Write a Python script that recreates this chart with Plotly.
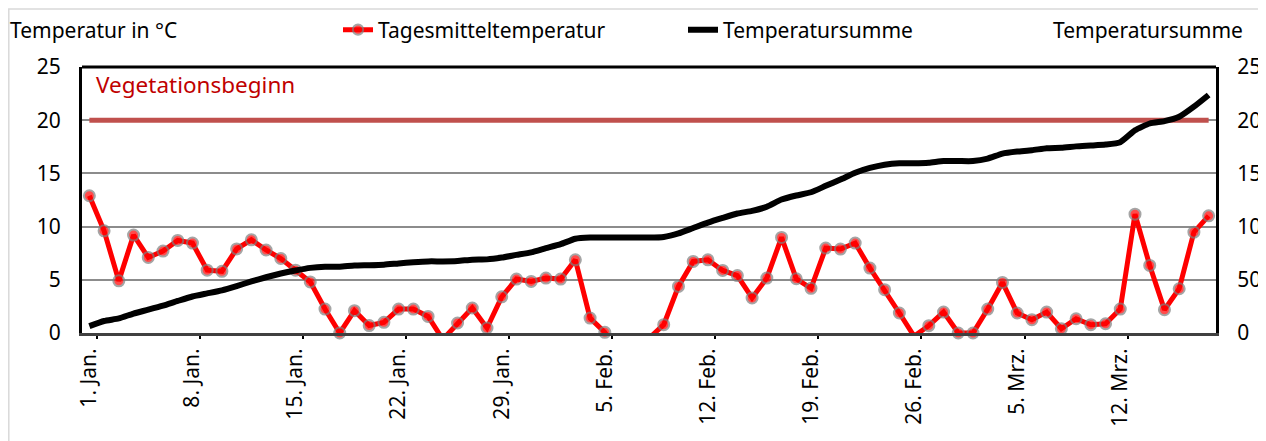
import pandas as pd
import plotly.graph_objects as go

# ---- data ----
start_date = "2021-01-01"
daily_mean = [12.9, 9.6, 4.9, 9.2, 7.1, 7.7, 8.7, 8.45, 5.9, 5.8,
              7.9, 8.76, 7.8, 7.0, 5.9, 4.8, 2.25, 0.0, 2.1, 0.7,
              1.0, 2.25, 2.25, 1.56, -0.6, 0.94, 2.35, 0.47, 3.4, 5.07,
              4.85, 5.16, 5.07, 6.88, 1.4, 0.06, -2.0, -3.0, -0.5, 0.78,
              4.38, 6.73, 6.88, 5.88, 5.4, 3.29, 5.16, 8.98, 5.1, 4.2,
              7.98, 7.89, 8.45, 6.1, 4.07, 1.88, -0.3, 0.69, 1.97, 0.0,
              0.0, 2.25, 4.75, 1.88, 1.25, 1.97, 0.4, 1.34, 0.78, 0.87,
              2.25, 11.17, 6.35, 2.19, 4.16, 9.48, 11.01]
temp_sum = [6.5, 11.3, 13.7, 18.3, 21.9, 25.7, 30.1, 34.3, 37.2, 40.1,
            44.1, 48.5, 52.4, 55.9, 58.8, 61.2, 62.3, 62.3, 63.4, 63.7,
            64.2, 65.4, 66.5, 67.3, 67.3, 67.7, 68.9, 69.2, 70.9, 73.4,
            75.8, 79.7, 83.5, 88.6, 89.7, 89.7, 89.7, 89.7, 89.7, 90.3,
            93.6, 98.7, 103.8, 108.2, 112.3, 114.8, 118.6, 125.4, 129.2, 132.3,
            138.3, 144.2, 150.6, 155.1, 158.2, 159.6, 159.6, 160.1, 161.6, 161.6,
            161.6, 163.9, 168.6, 170.5, 171.7, 173.7, 174.1, 175.4, 176.2, 177.1,
            179.3, 190.5, 196.9, 199.1, 203.2, 212.7, 223.7]
vegetation_start = 200  # on the right axis (= 20 on the left axis)
tick_labels = ["1. Jan.", "8. Jan.", "15. Jan.", "22. Jan.", "29. Jan.", "5. Feb.",
               "12. Feb.", "19. Feb.", "26. Feb.", "5. Mrz.", "12. Mrz."]
tick_step_days = 7

dates = pd.date_range(start_date, periods=len(daily_mean), freq="D")
tick_dates = [dates[i * tick_step_days] for i in range(len(tick_labels))]
minor_dates = [d + pd.Timedelta(hours=12) for d in tick_dates]

FONT = "Noto Sans"
FS = 21
OFF = 8  # page body margin
W, H = 1266 - OFF, 441 - OFF
L, R, T, B = 82 - OFF, 50, 67 - OFF, 108
pw, ph = W - L - R, H - T - B


def px(xs):  # screen x -> paper
    return (xs - OFF - L) / pw


def py(ys):  # screen y -> paper
    return (H - B - (ys - OFF)) / ph


fig = go.Figure()

fig.add_trace(go.Scatter(
    x=dates, y=[vegetation_start] * len(dates), yaxis="y2", mode="lines",
    line=dict(color="#C0504D", width=5), showlegend=False, hoverinfo="skip"))

fig.add_trace(go.Scatter(
    x=dates, y=daily_mean, mode="lines+markers", name="Tagesmitteltemperatur",
    line=dict(color="#FF0000", width=5),
    marker=dict(color="#FF0000", size=[11 if v >= 0 else 0 for v in daily_mean],
                line=dict(color="#7F7F7F", width=2)),
    cliponaxis=False))

fig.add_trace(go.Scatter(
    x=dates, y=temp_sum, yaxis="y2", mode="lines", name="Temperatursumme",
    line=dict(color="#000000", width=6, shape="spline", smoothing=0.5)))

fig.update_layout(
    width=W, height=H, margin=dict(l=L, r=R, t=T, b=B, autoexpand=False),
    paper_bgcolor="white", plot_bgcolor="white",
    font=dict(family=FONT, size=FS, color="#000000"),
    xaxis=dict(range=[dates[0] - pd.Timedelta(hours=12), dates[-1] + pd.Timedelta(hours=12)],
               tickmode="array", tickvals=tick_dates, ticktext=tick_labels,
               tickangle=-90, ticks="", showgrid=False, zeroline=False, automargin=False,
               showline=True, linecolor="#404040", linewidth=3, mirror=False,
               ticklabelstandoff=4, tickfont=dict(size=FS),
               minor=dict(tickmode="array", tickvals=minor_dates, ticks="outside",
                          ticklen=3, tickwidth=2, tickcolor="#000000", showgrid=False)),
    yaxis=dict(range=[0, 25], dtick=5, showgrid=True, gridcolor="#8C8C8C", gridwidth=1.5,
               zeroline=False, showline=True, linecolor="#000000", linewidth=3,
               ticks="", ticklabelstandoff=14, automargin=False),
    yaxis2=dict(range=[0, 250], dtick=50, overlaying="y", side="right", showgrid=False,
                zeroline=False, showline=True, linecolor="#000000", linewidth=3,
                ticks="", ticklabelstandoff=14, automargin=False),
    legend=dict(orientation="h", xref="container", yref="container",
                x=(338 - OFF) / W, xanchor="left", y=1 - (30 - OFF) / H, yanchor="middle",
                entrywidth=300, entrywidthmode="pixels", bgcolor="rgba(0,0,0,0)",
                font=dict(family=FONT, size=FS), tracegroupgap=0),
    showlegend=True,
)

fig.add_shape(type="line", xref="paper", yref="paper", x0=0, x1=1, y0=1, y1=1,
              line=dict(color="#000000", width=3))
fig.add_shape(type="rect", xref="paper", yref="paper", x0=px(8.8), x1=px(1290),
              y0=py(9), y1=py(470), line=dict(color="#D9D9D9", width=1.5), layer="below")

fig.add_annotation(text="Temperatur in °C", xref="paper", yref="paper", x=px(8), y=py(30),
                   xanchor="left", yanchor="middle", showarrow=False,
                   font=dict(family=FONT, size=FS))
fig.add_annotation(text="Temperatursumme", xref="paper", yref="paper", x=px(1051), y=py(30),
                   xanchor="left", yanchor="middle", showarrow=False,
                   font=dict(family=FONT, size=FS))
fig.add_annotation(text="Vegetationsbeginn", xref="paper", yref="paper", x=px(94), y=py(84),
                   xanchor="left", yanchor="middle", showarrow=False,
                   font=dict(family=FONT, size=22.5, color="#C00000"))

fig.write_html("out.html")
